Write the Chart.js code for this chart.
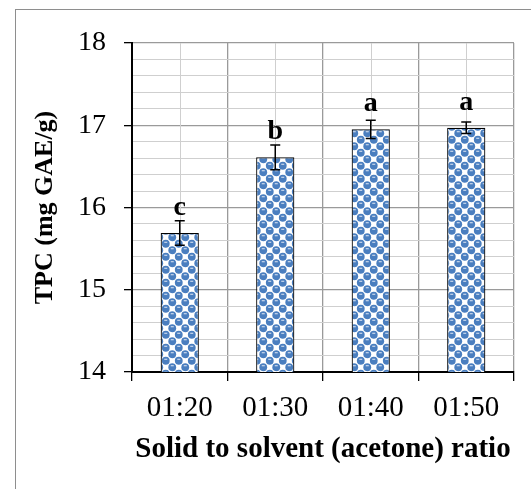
<!DOCTYPE html>
<html>
<head>
<meta charset="utf-8">
<script src="https://cdn.jsdelivr.net/npm/chart.js@4"></script>
<style>
html, body { margin: 0; padding: 0; background: #fff; overflow: hidden; }
#frame { position: absolute; left: 15px; top: 9px; width: 700px; height: 700px; border: 1.5px solid #8e8e8e; }
#wrap { position: absolute; left: 0; top: 0; width: 531px; height: 489px; }
</style>
</head>
<body>
<div id="frame"></div>
<div id="wrap"><canvas id="chart" width="531" height="489"></canvas></div>
<script>
const ratios = ['01:20', '01:30', '01:40', '01:50'];
const tpc = [15.69, 16.61, 16.95, 16.97];
const tpcError = [0.15, 0.15, 0.11, 0.07];
const groupLetters = ['c', 'b', 'a', 'a'];
const yTicks = [14, 15, 16, 17, 18];

const serif = "'Liberation Serif', 'Times New Roman', serif";

// sphere-like fill: blue blobs on a white checkerboard
function spherePattern() {
    const tile = document.createElement('canvas');
    tile.width = 13;
    tile.height = 13;
    const t = tile.getContext('2d');
    t.fillStyle = '#fff';
    t.fillRect(0, 0, 13, 13);
    const spots = [[3.25, 3.25], [9.75, 9.75], [-3.25, 9.75], [16.25, 3.25], [9.75, -3.25], [3.25, 16.25]];
    t.fillStyle = '#4a7ebf';
    spots.forEach(([x, y]) => {
        t.beginPath();
        t.arc(x, y, 3.9, 0, Math.PI * 2);
        t.fill();
    });
    t.fillStyle = '#dfe8f5';
    spots.forEach(([x, y]) => {
        t.fillRect(x - 1.5, y - 2, 3, 1);
    });
    return t.createPattern(tile, 'repeat');
}

function isMajor(v) {
    return Math.abs(v - Math.round(v)) < 1e-6 && yTicks.includes(Math.round(v));
}

const centerLines = {
    id: 'centerLines',
    beforeDatasetsDraw(chart) {
        const { ctx, chartArea, scales } = chart;
        ctx.save();
        ctx.strokeStyle = '#cfcfcf';
        ctx.lineWidth = 1;
        ratios.forEach((r, i) => {
            const x = Math.round(scales.x.getPixelForValue(i)) + 0.5;
            ctx.beginPath();
            ctx.moveTo(x, chartArea.top);
            ctx.lineTo(x, chartArea.bottom);
            ctx.stroke();
        });
        ctx.restore();
    }
};

const errorBars = {
    id: 'errorBars',
    afterDatasetsDraw(chart) {
        const { ctx, scales } = chart;
        ctx.save();
        ctx.strokeStyle = '#000';
        ctx.lineWidth = 1.5;
        ctx.fillStyle = '#000';
        ctx.font = 'bold 28px ' + serif;
        ctx.textAlign = 'center';
        ctx.textBaseline = 'alphabetic';
        tpc.forEach((v, i) => {
            const x = scales.x.getPixelForValue(i);
            const hi = scales.y.getPixelForValue(v + tpcError[i]);
            const lo = scales.y.getPixelForValue(v - tpcError[i]);
            ctx.beginPath();
            ctx.moveTo(x, hi);
            ctx.lineTo(x, lo);
            ctx.moveTo(x - 5, hi);
            ctx.lineTo(x + 5, hi);
            ctx.moveTo(x - 5, lo);
            ctx.lineTo(x + 5, lo);
            ctx.stroke();
            const top = scales.y.getPixelForValue(v);
            ctx.fillText(groupLetters[i], x, Math.min(top - 18, hi - 6));
        });
        ctx.restore();
    }
};

new Chart(document.querySelector('#chart'), {
    type: 'bar',
    data: {
        labels: ratios,
        datasets: [{
            data: tpc,
            backgroundColor: spherePattern(),
            borderColor: '#000',
            borderWidth: 1.2,
            borderSkipped: false,
            barPercentage: 0.4,
            categoryPercentage: 1
        }]
    },
    options: {
        responsive: false,
        animation: false,
        devicePixelRatio: 1,
        layout: { padding: { top: 43, right: 17, left: 0, bottom: 0 } },
        plugins: { legend: { display: false }, tooltip: { enabled: false } },
        scales: {
            x: {
                offset: true,
                afterFit: s => { s.height = 117; },
                grid: { offset: true, color: '#9a9a9a', lineWidth: 1.3, tickColor: '#000', tickLength: 9 },
                border: { color: '#000', width: 2 },
                ticks: { color: '#000', font: { family: serif, size: 29 }, padding: 10 },
                title: {
                    display: true,
                    text: 'Solid to solvent (acetone) ratio',
                    color: '#000',
                    font: { family: serif, size: 29, weight: 'bold' },
                    padding: { top: 0, bottom: 22 }
                }
            },
            y: {
                min: 14,
                max: 18,
                afterFit: s => { s.width = 132; },
                grid: {
                    color: c => isMajor(c.tick.value) ? '#9a9a9a' : '#cfcfcf',
                    lineWidth: c => isMajor(c.tick.value) ? 1.3 : 1,
                    tickColor: c => isMajor(c.tick.value) ? '#000' : 'rgba(0,0,0,0)',
                    tickLength: 8
                },
                border: { color: '#000', width: 2 },
                ticks: {
                    stepSize: 0.2,
                    autoSkip: false,
                    color: '#000',
                    padding: 18,
                    font: { family: serif, size: 28 },
                    callback: v => isMajor(v) ? String(Math.round(v)) : ''
                },
                title: {
                    display: true,
                    text: 'TPC (mg GAE/g)',
                    color: '#000',
                    font: { family: serif, size: 26, weight: 'bold' },
                    padding: { top: 30, bottom: 0 }
                }
            }
        }
    },
    plugins: [centerLines, errorBars]
});
</script>
</body>
</html>
